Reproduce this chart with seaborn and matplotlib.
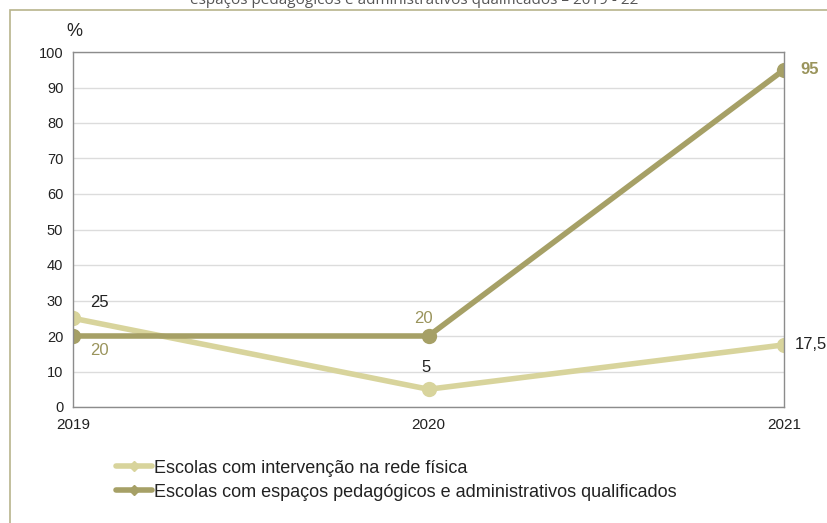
import pandas as pd
import seaborn as sns
import matplotlib.pyplot as plt
from matplotlib.patches import Rectangle
from matplotlib.lines import Line2D

# data
anos = [2019, 2020, 2021]
intervencao = [25, 5, 17.5]
qualificados = [20, 20, 95]
serie_a = "Escolas com intervenção na rede física"
serie_b = "Escolas com espaços pedagógicos e administrativos qualificados"
rotulos_a = ["25", "5", "17,5"]
rotulos_b = ["20", "20", "95"]

df = pd.DataFrame({
    "ano": anos * 2,
    "valor": intervencao + qualificados,
    "serie": [serie_a] * 3 + [serie_b] * 3,
})

cor_a = "#d8d49c"
cor_b = "#a6a066"
cor_txt_b = "#9a945c"

sns.set_style("white")
plt.rcParams["font.family"] = ["Liberation Sans", "DejaVu Sans"]

fig = plt.figure(figsize=(8.28, 5.23), dpi=100)
ax = fig.add_axes([73 / 828, 1 - 407 / 523, (784 - 73) / 828, (407 - 52) / 523])

sns.lineplot(data=df, x="ano", y="valor", hue="serie", palette=[cor_a, cor_b],
             marker="o", markersize=11, markeredgewidth=0, linewidth=4,
             legend=False, ax=ax)

ax.set_xlim(2019, 2021)
ax.set_ylim(0, 100)
ax.set_xticks(anos)
ax.set_yticks(range(0, 101, 10))
ax.set_xlabel("")
ax.set_ylabel("")
ax.grid(axis="y", color="#dcdcdc", linewidth=1)
ax.set_axisbelow(True)
for s in ax.spines.values():
    s.set_color("#8c8c8c")
    s.set_linewidth(1)
ax.tick_params(axis="both", direction="out", length=5, width=1, color="#8c8c8c",
               labelsize=10.5, labelcolor="#222222", pad=2)
ax.tick_params(axis="x", pad=3, labelsize=11)

# rotulos de dados
ax.annotate(rotulos_a[0], (anos[0], intervencao[0]), xytext=(12, 6), textcoords="offset points",
            fontsize=12, color="#222222", va="bottom", ha="left", annotation_clip=False)
ax.annotate(rotulos_a[1], (anos[1], intervencao[1]), xytext=(-2, 10), textcoords="offset points",
            fontsize=12, color="#222222", va="bottom", ha="center", annotation_clip=False)
ax.annotate(rotulos_a[2], (anos[2], intervencao[2]), xytext=(8, 0), textcoords="offset points",
            fontsize=12, color="#222222", va="center", ha="left", annotation_clip=False)
ax.annotate(rotulos_b[0], (anos[0], qualificados[0]), xytext=(12, -5), textcoords="offset points",
            fontsize=12, color=cor_txt_b, va="top", ha="left", annotation_clip=False)
ax.annotate(rotulos_b[1], (anos[1], qualificados[1]), xytext=(-4, 7), textcoords="offset points",
            fontsize=12, color=cor_txt_b, va="bottom", ha="center", annotation_clip=False)
ax.annotate(rotulos_b[2], (anos[2], qualificados[2]), xytext=(12, 0), textcoords="offset points",
            fontsize=12, color=cor_txt_b, va="center", ha="left", annotation_clip=False, weight="bold")

fig.text(66 / 828, 1 - 32 / 523, "%", fontsize=13, color="#222222", va="center", ha="left")

# titulo cortado no topo
fig.text(0.5, 1.0, "espaços pedagógicos e administrativos qualificados – 2019 - 22",
         fontsize=11, color="#555555", ha="center", va="center",
         family=["Open Sans", "DejaVu Sans"])

# moldura
fig.patches.append(Rectangle((10 / 828, -0.05), 1.1, 1 - 10 / 523 + 0.05, transform=fig.transFigure,
                             fill=False, edgecolor="#b8b48c", linewidth=1.2))

handles = [Line2D([], [], color=cor_a, linewidth=4, marker="D", markersize=5),
           Line2D([], [], color=cor_b, linewidth=4, marker="D", markersize=5)]
fig.legend(handles, [serie_a, serie_b], loc="center left", bbox_to_anchor=(0.12, 0.082),
           frameon=False, fontsize=13, handlelength=2.0, handletextpad=0.1, labelspacing=0.4,
           labelcolor="#222222")

plt.savefig("out.png", dpi=100)
